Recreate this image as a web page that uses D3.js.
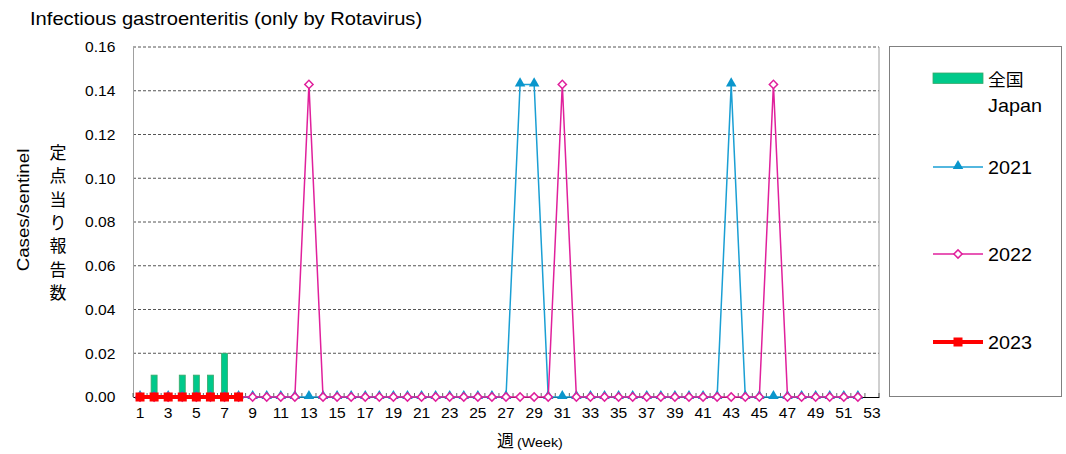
<!DOCTYPE html>
<html><head><meta charset="utf-8">
<script src="https://cdn.jsdelivr.net/npm/d3@7"></script>
<style>body{margin:0;background:#fff}svg{display:block;font-family:"Liberation Sans",Arial,sans-serif}</style>
</head><body><svg id="c" width="1066" height="454"></svg>
<script>
const weeks = d3.range(1, 54);
const tickWeeks = d3.range(1, 54, 2);
const yTicks = [0, 0.02, 0.04, 0.06, 0.08, 0.10, 0.12, 0.14, 0.16];
const japan = [0,0.01,0,0.01,0.01,0.01,0.02,0];
const y2021 = [0,0,0,0,0,0,0,0,0,0,0,0,0,0,0,0,0,0,0,0,0,0,0,0,0,0,0,0.1429,0.1429,0,0,0,0,0,0,0,0,0,0,0,0,0,0.1429,0,0,0,0,0,0,0,0,0];
const y2022 = [0,0,0,0,0,0,0,0,0,0,0,0,0.1429,0,0,0,0,0,0,0,0,0,0,0,0,0,0,0,0,0,0.1429,0,0,0,0,0,0,0,0,0,0,0,0,0,0,0.1429,0,0,0,0,0,0];
const y2023 = [0,0,0,0,0,0,0,0];
const legendNames = ["2021", "2022", "2023"];

const SX = 1.1;
const svg = d3.select("#c");
const L=133, R=879, T=47, B=397;
const x = d3.scaleBand().domain(weeks).range([L, R]);
const cx = w => x(w) + x.bandwidth()/2;
const y = d3.scaleLinear().domain([0, 0.16]).range([B, T]);

function txt(px, py, s, size, opts={}) {
  const t = svg.append("text").attr("transform", `translate(${px},${py}) scale(${opts.sx||SX},1)`)
    .attr("font-size", size).text(s);
  if (opts.anchor) t.attr("text-anchor", opts.anchor);
  if (opts.family) t.attr("font-family", opts.family);
  return t;
}

// gridlines
svg.append("g").selectAll("line").data(yTicks.filter(d=>d>0)).join("line")
  .attr("x1", L).attr("x2", R).attr("y1", d=>y(d)).attr("y2", d=>y(d))
  .attr("stroke", "#555").attr("stroke-width", 1).attr("stroke-dasharray", "3,2");
svg.append("line").attr("x1", R).attr("x2", R).attr("y1", T).attr("y2", B).attr("stroke", "#a0a0a0");

// y axis
const yAx = svg.append("g").attr("transform", `translate(${L},0)`)
  .call(d3.axisLeft(y).tickValues(yTicks).tickFormat(d3.format(".2f")).tickSize(0).tickPadding(17));
yAx.select(".domain").attr("stroke", "#a0a0a0");
yAx.selectAll("text").attr("font-size", 15).attr("fill", "#000").attr("font-family", "Liberation Sans, Arial")
  .attr("transform", `scale(1.04,1)`);

// x axis
const xAx = svg.append("g").attr("transform", `translate(0,${B})`)
  .call(d3.axisBottom(x).tickValues(tickWeeks).tickSize(0).tickPadding(10));
xAx.select(".domain").attr("stroke", "#000");
xAx.selectAll("text").attr("font-size", 15).attr("fill", "#000").attr("font-family", "Liberation Sans, Arial")
  .attr("transform", `scale(1.04,1)`);
svg.append("g").selectAll("line").data(weeks.map(w => x(w)).concat([R])).join("line")
  .attr("x1", d => d).attr("x2", d => d).attr("y1", B).attr("y2", B-4)
  .attr("stroke", "#000").attr("stroke-width", 0.6);

// bars
const bw = 6;
svg.append("g").selectAll("rect").data(japan.map((v,i)=>({w:i+1,v}))).join("rect")
  .attr("x", d => cx(d.w) - bw/2).attr("width", bw)
  .attr("y", d => y(d.v)).attr("height", d => B - y(d.v))
  .attr("fill", "#00c98a").attr("stroke", "#3aa86a").attr("stroke-width", 0.8);

const line = d3.line().x(d => cx(d.w)).y(d => y(d.v));
function series(arr, color, width) {
  const data = arr.map((v,i)=>({w:i+1, v}));
  svg.append("path").datum(data).attr("d", line).attr("fill", "none")
    .attr("stroke", color).attr("stroke-width", width);
  return data;
}
const tri = d3.symbol().type(d3.symbolTriangle).size(48);
const sq = d3.symbol().type(d3.symbolSquare).size(34);
const C21 = "#1a9fd4", C22 = "#e0209c", C23 = "#ff0000";
const d21 = series(y2021, C21, 1.5);
svg.append("g").selectAll("path").data(d21).join("path")
  .attr("transform", d => `translate(${cx(d.w)},${y(d.v)-1})`).attr("d", tri).attr("fill", "#0a96cc");
const d22 = series(y2022, C22, 1.5);
svg.append("g").selectAll("path").data(d22).join("path")
  .attr("transform", d => `translate(${cx(d.w)},${y(d.v)}) rotate(45)`).attr("d", sq)
  .attr("fill", "#fff").attr("stroke", C22).attr("stroke-width", 1.5);
const d23 = series(y2023, C23, 4);
svg.append("g").selectAll("rect").data(d23).join("rect")
  .attr("x", d => cx(d.w)-4.5).attr("y", d => y(d.v)-4.5).attr("width", 9).attr("height", 9).attr("fill", C23);

// title
txt(30, 25, "Infectious gastroenteritis (only by Rotavirus)", 18, {sx:1.12});
// y labels
svg.append("text").attr("transform", "translate(29,210) rotate(-90) scale(1.1,1)").attr("text-anchor", "middle")
  .attr("font-size", 17).text("Cases/sentinel");
const jp = "定点当り報告数".split("");
svg.append("g").selectAll("text").data(jp).join("text")
  .attr("x", 58).attr("y", (d,i) => 159 + i*23.3).attr("text-anchor", "middle")
  .attr("font-size", 17).attr("font-family", "Noto Sans CJK JP").text(d => d);
// x label
txt(514, 447, "週", 17, {anchor:"end", family:"Noto Sans CJK JP", sx:1});
txt(517, 447, "(Week)", 13);

// legend
svg.append("rect").attr("x", 889.5).attr("y", 46.5).attr("width", 172).attr("height", 350)
  .attr("fill", "#fff").attr("stroke", "#808080");
const lx0 = 933, lx1 = 983, tx = 988;
svg.append("rect").attr("x", lx0).attr("y", 73).attr("width", 50).attr("height", 10.5)
  .attr("fill", "#00c98a").attr("stroke", "#3aa86a").attr("stroke-width", 0.8);
txt(tx, 86, "全国", 17, {family:"Noto Sans CJK JP", sx:1.05});
txt(tx, 112, "Japan", 18);
const leg = [
  {yy:167, color:C21, w:1.5},
  {yy:254, color:C22, w:1.5},
  {yy:342, color:C23, w:4}
];
leg.forEach((l, i) => {
  svg.append("line").attr("x1", lx0).attr("x2", lx1).attr("y1", l.yy).attr("y2", l.yy)
    .attr("stroke", l.color).attr("stroke-width", l.w);
  txt(tx, l.yy + 6.5, legendNames[i], 18);
});
svg.append("path").attr("transform", `translate(958,${leg[0].yy-1})`).attr("d", tri).attr("fill", "#0a96cc");
svg.append("path").attr("transform", `translate(958,${leg[1].yy}) rotate(45)`).attr("d", sq)
  .attr("fill", "#fff").attr("stroke", C22).attr("stroke-width", 1.5);
svg.append("rect").attr("x", 953.5).attr("y", leg[2].yy-4.5).attr("width", 9).attr("height", 9).attr("fill", C23);
</script></body></html>
